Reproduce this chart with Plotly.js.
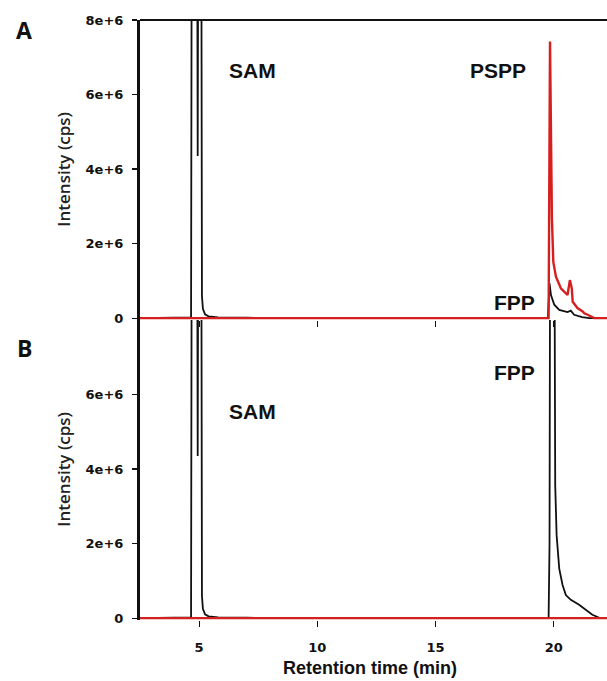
<!DOCTYPE html>
<html>
<head>
<meta charset="utf-8">
<script src="https://cdn.plot.ly/plotly-3.0.1.min.js"></script>
<style>html,body{margin:0;padding:0;background:#fff;}#chart{width:607px;height:681px;}</style>
</head>
<body>
<div id="chart"></div>
<script>
// Panel A – black trace (FPP control), retention time (min) and intensity (cps)
const timeA_black = [2.5, 4.6, 4.66, 4.70, 4.90, 4.94, 4.98, 5.08, 5.12, 5.16, 5.25, 5.4, 5.8, 7.0, 10.0, 19.75, 19.79, 19.82, 19.88, 20.02, 20.23, 20.58, 20.72, 20.86, 21.2, 21.5, 22.3];
const intA_black  = [0, 0, 20000, 1.6e7, 1.6e7, 4.35e6, 1.6e7, 1.6e7, 6e5, 2.5e5, 1e5, 5e4, 2e4, 1e4, 0, 0, 4e5, 9.3e5, 6.2e5, 3.6e5, 2.2e5, 1.6e5, 2e5, 9e4, 3e4, 0, 0];
// Panel A – red trace (PSPP)
const timeA_red = [2.5, 19.78, 19.84, 19.92, 19.98, 20.09, 20.30, 20.58, 20.68, 20.76, 20.80, 21.0, 21.22, 21.29, 21.43, 21.71, 22.3];
const intA_red  = [0, 0, 7.42e6, 2.67e6, 1.51e6, 1.11e6, 8e5, 6.2e5, 1.02e6, 8e5, 4.4e5, 2.7e5, 1.8e5, 1.3e5, 9e4, 0, 0];
// Panel B – black trace
const timeB_black = [2.5, 4.6, 4.66, 4.70, 4.90, 4.94, 4.98, 5.08, 5.12, 5.16, 5.25, 5.4, 5.8, 7.0, 10.0, 19.78, 19.82, 19.86, 20.0, 20.06, 20.12, 20.23, 20.37, 20.51, 20.72, 21.07, 21.35, 21.63, 21.85, 21.95, 22.3];
const intB_black  = [0, 0, 20000, 1.6e7, 1.6e7, 4.35e6, 1.6e7, 1.6e7, 6e5, 2.5e5, 1e5, 5e4, 2e4, 1e4, 0, 0, 2e6, 1.6e7, 1.6e7, 3.56e6, 2.22e6, 1.33e6, 8.9e5, 6.2e5, 4.9e5, 3.6e5, 2.2e5, 9e4, 3e4, 0, 0];
// Panel B – red trace
const timeB_red = [2.5, 22.3];
const intB_red  = [0, 0];

const yTickVals = [0, 2e6, 4e6, 6e6, 8e6];
const yTickText = ['0', '2e+6', '4e+6', '6e+6', '8e+6'];
const xTickVals = [5, 10, 15, 20];

const BLACK = '#111111';
const RED = '#d61f1f';

const traces = [
  {x: timeA_black, y: intA_black, xaxis: 'x2', yaxis: 'y2', mode: 'lines', line: {color: BLACK, width: 1.8}},
  {x: timeA_red, y: intA_red, xaxis: 'x2', yaxis: 'y2', mode: 'lines', line: {color: RED, width: 2.4}},
  {x: timeB_black, y: intB_black, xaxis: 'x', yaxis: 'y', mode: 'lines', line: {color: BLACK, width: 1.8}},
  {x: timeB_red, y: intB_red, xaxis: 'x', yaxis: 'y', mode: 'lines', line: {color: RED, width: 2.4}}
];

const tickFont = {family: 'DejaVu Sans, sans-serif', size: 13, color: '#111', weight: 'bold'};
const labFont = {family: 'Liberation Sans, Arial, sans-serif', size: 21, color: '#111', weight: 'bold'};

function yAx(domain, vals, text) {
  return {domain: domain, range: [-5e4, 8e6], tickvals: vals, ticktext: text, ticks: 'outside', ticklen: 5,
    tickwidth: 1.2, tickcolor: '#111', showline: true, linecolor: '#111', linewidth: 3,
    zeroline: false, showgrid: false, tickfont: tickFont, ticklabelstandoff: 6, fixedrange: true};
}

const layout = {
  width: 607, height: 681,
  margin: {l: 140, r: 0, t: 20, b: 61, pad: 0},
  paper_bgcolor: '#fff', plot_bgcolor: '#fff',
  showlegend: false,
  xaxis: {domain: [0, 1], anchor: 'y', range: [2.5, 22.25], tickvals: xTickVals, ticks: 'outside', ticklen: 6,
    tickwidth: 1.2, tickcolor: '#111', showline: false,
    zeroline: false, showgrid: false, tickfont: tickFont, ticklabelstandoff: 9},
  xaxis2: {domain: [0, 1], anchor: 'y2', range: [2.5, 22.25], tickvals: xTickVals, ticks: 'outside', ticklen: 6,
    tickwidth: 1.2, tickcolor: '#111', showline: false,
    zeroline: false, showgrid: false, showticklabels: false},
  yaxis: yAx([0, 0.5], yTickVals.slice(0, 4), yTickText.slice(0, 4)),
  yaxis2: yAx([0.5, 1], yTickVals, yTickText),
  shapes: [
    {type: 'line', xref: 'paper', yref: 'paper', x0: 0, x1: 1, y0: 1, y1: 1, line: {color: '#111', width: 2}}
  ],
  annotations: [
    {text: 'A', xref: 'paper', yref: 'paper', x: -0.248, y: 1.0, xanchor: 'center', yanchor: 'middle', showarrow: false,
     font: {family: 'Open Sans, sans-serif', size: 23, color: '#111', weight: 'bold'}, yshift: -10},
    {text: 'B', xref: 'paper', yref: 'paper', x: -0.248, y: 0.5, xanchor: 'center', yanchor: 'middle', showarrow: false,
     font: {family: 'Open Sans, sans-serif', size: 23, color: '#111', weight: 'bold'}, yshift: -28},
    {text: 'Intensity (cps)', xref: 'paper', yref: 'paper', x: -0.163, y: 0.752, xanchor: 'center', yanchor: 'middle', textangle: -90, showarrow: false,
     font: {family: 'Open Sans, sans-serif', size: 17, color: '#222', weight: 600}},
    {text: 'Intensity (cps)', xref: 'paper', yref: 'paper', x: -0.163, y: 0.252, xanchor: 'center', yanchor: 'middle', textangle: -90, showarrow: false,
     font: {family: 'Open Sans, sans-serif', size: 17, color: '#222', weight: 600}},
    {text: 'Retention time (min)', xref: 'paper', yref: 'paper', x: 0.493, y: 0, yshift: -48, xanchor: 'center', yanchor: 'middle', showarrow: false,
     font: {family: 'Liberation Sans, Arial, sans-serif', size: 18, color: '#111', weight: 'bold'}},
    {text: 'SAM', xref: 'paper', yref: 'paper', x: 0.24, y: 1, yshift: -50, xanchor: 'center', yanchor: 'middle', showarrow: false, font: labFont},
    {text: 'PSPP', xref: 'paper', yref: 'paper', x: 0.767, y: 1, yshift: -50, xanchor: 'center', yanchor: 'middle', showarrow: false, font: labFont},
    {text: 'FPP', xref: 'paper', yref: 'paper', x: 0.801, y: 0.5, yshift: 18, xanchor: 'center', yanchor: 'middle', showarrow: false, font: labFont},
    {text: 'SAM', xref: 'paper', yref: 'paper', x: 0.24, y: 0.5, yshift: -91, xanchor: 'center', yanchor: 'middle', showarrow: false, font: labFont},
    {text: 'FPP', xref: 'paper', yref: 'paper', x: 0.801, y: 0.5, yshift: -52, xanchor: 'center', yanchor: 'middle', showarrow: false, font: labFont}
  ]
};

Plotly.newPlot('chart', traces, layout, {displayModeBar: false, staticPlot: true});
</script>
</body>
</html>
